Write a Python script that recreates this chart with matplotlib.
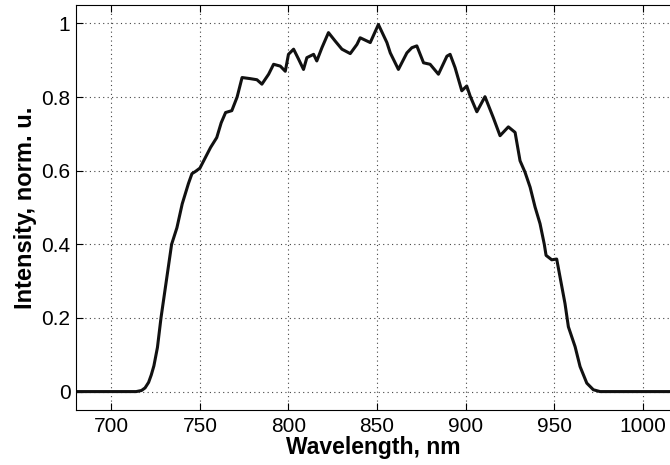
import matplotlib
matplotlib.use("Agg")
import matplotlib.pyplot as plt

plt.rcParams['font.family'] = ['Liberation Sans', 'DejaVu Sans']

# Emission spectrum, normalised intensity vs wavelength (nm)
wavelength = [680, 700, 714, 717, 719, 721, 722.5, 724, 726, 728, 731, 734, 737,
              740, 743.5, 745.5, 747.5, 750, 753, 756, 759.5, 762, 764.5, 768,
              771, 773.8, 778.4, 782.2, 785, 788.8, 791.6, 795.4, 798.2, 800,
              802.9, 805.7, 808.5, 810.4, 814.2, 816, 818.9, 822.6, 826.4, 830.2,
              834.9, 838.7, 840.5, 846.2, 850.8, 855.6, 857.5, 862.1, 866.9,
              869.7, 872.5, 876.3, 880, 884.7, 889.5, 891.3, 894.1, 897.9, 900.7,
              902.6, 906.4, 911, 915.7, 919.5, 924.2, 928, 930.8, 933.6, 936.5,
              939.3, 942.1, 944.5, 945.5, 948.7, 951.5, 953.4, 956.2, 958.1,
              961.9, 964.7, 968.5, 972.2, 976, 1000, 1020]
intensity = [0, 0, 0, 0.003, 0.01, 0.025, 0.045, 0.07, 0.12, 0.2, 0.3, 0.4, 0.445,
             0.51, 0.565, 0.592, 0.598, 0.607, 0.635, 0.663, 0.69, 0.73, 0.758, 0.763,
             0.8, 0.853, 0.85, 0.847, 0.835, 0.862, 0.889, 0.884, 0.87, 0.916,
             0.93, 0.903, 0.875, 0.907, 0.916, 0.898, 0.934, 0.975, 0.952, 0.93,
             0.918, 0.943, 0.961, 0.948, 0.997, 0.948, 0.92, 0.875, 0.92,
             0.934, 0.939, 0.893, 0.889, 0.862, 0.911, 0.916, 0.88, 0.817, 0.83,
             0.803, 0.76, 0.801, 0.744, 0.695, 0.719, 0.704, 0.627, 0.596, 0.555,
             0.501, 0.456, 0.40, 0.37, 0.358, 0.36, 0.311, 0.239, 0.176,
             0.122, 0.068, 0.023, 0.005, 0, 0, 0]

x_ticks = [700, 750, 800, 850, 900, 950, 1000]
y_ticks = [0, 0.2, 0.4, 0.6, 0.8, 1.0]
y_tick_labels = ['0', '0.2', '0.4', '0.6', '0.8', '1']

fig = plt.figure(figsize=(6.7, 4.65), dpi=100)
ax = fig.add_axes([76 / 670, 55 / 465, 1 - 76 / 670, 405 / 465])

ax.plot(wavelength, intensity, color='#111111', lw=2.2, solid_joinstyle='round')

ax.set_xlim(680, 1015.5)
ax.set_ylim(-0.05, 1.05)
ax.set_xticks(x_ticks)
ax.set_yticks(y_ticks)
ax.set_yticklabels(y_tick_labels)

ax.grid(True, color='#444444', linestyle=(0, (1, 3)), linewidth=0.8)
ax.tick_params(direction='in', length=5, width=0.8, labelsize=15,
               top=True, right=False)
ax.tick_params(axis='x', pad=5)
ax.tick_params(axis='y', pad=4)
ax.spines['right'].set_visible(False)
for s in ('left', 'top', 'bottom'):
    ax.spines[s].set_linewidth(0.8)

ax.set_xlabel('Wavelength, nm', fontsize=16.5, fontweight='bold', labelpad=0)
ax.set_ylabel('Intensity, norm. u.', fontsize=17, fontweight='bold', labelpad=3)

fig.savefig('out.png', dpi=100)
